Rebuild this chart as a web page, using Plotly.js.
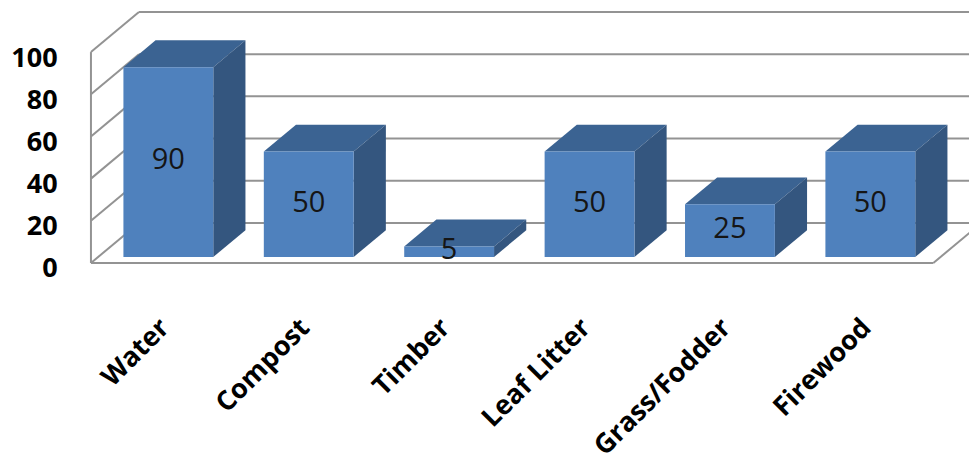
<!DOCTYPE html>
<html>
<head>
<meta charset="utf-8">
<script src="https://cdn.plot.ly/plotly-3.0.1.min.js"></script>
<style>
  html, body { margin: 0; padding: 0; background: #ffffff; }
  #chart { width: 969px; height: 470px; }
</style>
</head>
<body>
<div id="chart"></div>
<script>
// Ecosystem services: share of respondents per resource
const categories = ["Water", "Compost", "Timber", "Leaf Litter", "Grass/Fodder", "Firewood"];
const values = [90, 50, 5, 50, 25, 50];
const yTickValues = [0, 20, 40, 60, 80, 100];

// 3D box geometry, in axis units
const WALL_DX = 0.342;   // depth of the walls along x
const WALL_DY = 19;      // depth of the walls along y
const BAR_W = 0.64;      // bar width as a fraction of a category
const BAR_Z0 = 0.15;     // bar front, as a fraction of wall depth
const BAR_Z1 = 0.82;     // bar back, as a fraction of wall depth
const X_MIN = -0.521, X_MAX = 5.754;
const Y_MIN = -1.9, Y_MAX = 120.9;

const FRONT = "#4f81bd", TOP = "#3b6392", SIDE = "#34567f";
const GRID = "#939393";

const n = categories.length;
const xLeft = -0.5, xRight = n - 0.5;
const yMax = yTickValues[yTickValues.length - 1];

// wall and floor lines
const wx = [], wy = [];
function seg(x0, y0, x1, y1) { wx.push(x0, x1, null); wy.push(y0, y1, null); }
seg(xLeft, 0, xLeft, yMax);                          // front edge of the side wall
yTickValues.forEach(v => {
  seg(xLeft, v, xLeft + WALL_DX, v + WALL_DY);       // side wall
  seg(xLeft + WALL_DX, v + WALL_DY, X_MAX, v + WALL_DY); // back wall
});
seg(xLeft, 0, xRight, 0);                            // floor front edge
seg(xRight, 0, xRight + WALL_DX, WALL_DY);           // floor right edge

const traces = [{
  type: "scatter", mode: "lines", x: wx, y: wy,
  line: { color: GRID, width: 2 }, hoverinfo: "skip", showlegend: false
}];

function poly(xs, ys, color) {
  traces.push({
    type: "scatter", mode: "lines", fill: "toself", fillcolor: color,
    x: xs.concat([xs[0]]), y: ys.concat([ys[0]]),
    line: { width: 0, color: color }, hoverinfo: "skip", showlegend: false
  });
}

const dz = BAR_Z1 - BAR_Z0;
const textX = [], textY = [], textS = [];
values.forEach((v, i) => {
  const xl = i - BAR_W / 2 + BAR_Z0 * WALL_DX;
  const xr = i + BAR_W / 2 + BAR_Z0 * WALL_DX;
  const yb = BAR_Z0 * WALL_DY;
  const yt = yb + v;
  const ox = dz * WALL_DX, oy = dz * WALL_DY;
  poly([xl, xr, xr + ox, xl + ox], [yt, yt, yt + oy, yt + oy], TOP);
  poly([xr, xr + ox, xr + ox, xr], [yb, yb + oy, yt + oy, yt], SIDE);
  poly([xl, xr, xr, xl], [yb, yb, yt, yt], FRONT);
  textX.push((xl + xr) / 2);
  textY.push(yb + v / 2);
  textS.push(String(v));
});

traces.push({
  type: "scatter", mode: "text", x: textX, y: textY, text: textS,
  textposition: "middle center", cliponaxis: false,
  textfont: { family: "Open Sans", size: 29, color: "#151515" },
  hoverinfo: "skip", showlegend: false
});

const tickFont = { family: "Open Sans", size: 27, color: "#000000", weight: 700 };

const layout = {
  width: 969, height: 470,
  margin: { l: 88, r: 0, t: 8, b: 203, pad: 0 },
  paper_bgcolor: "#ffffff", plot_bgcolor: "#ffffff",
  showlegend: false,
  xaxis: {
    range: [X_MIN, X_MAX], showgrid: false, zeroline: false, showline: false,
    tickmode: "array", tickvals: categories.map((c, i) => i), ticktext: categories,
    tickangle: -45, ticks: "outside", ticklen: 33, tickcolor: "rgba(0,0,0,0)",
    tickfont: tickFont, fixedrange: true
  },
  yaxis: {
    range: [Y_MIN, Y_MAX], showgrid: false, zeroline: false, showline: false,
    tickmode: "array", tickvals: yTickValues, ticks: "outside", ticklen: 24,
    ticklabelshift: 5,
    tickcolor: "rgba(0,0,0,0)", tickfont: tickFont, fixedrange: true
  }
};

Plotly.newPlot("chart", traces, layout, { displayModeBar: false, staticPlot: true });
</script>
</body>
</html>
